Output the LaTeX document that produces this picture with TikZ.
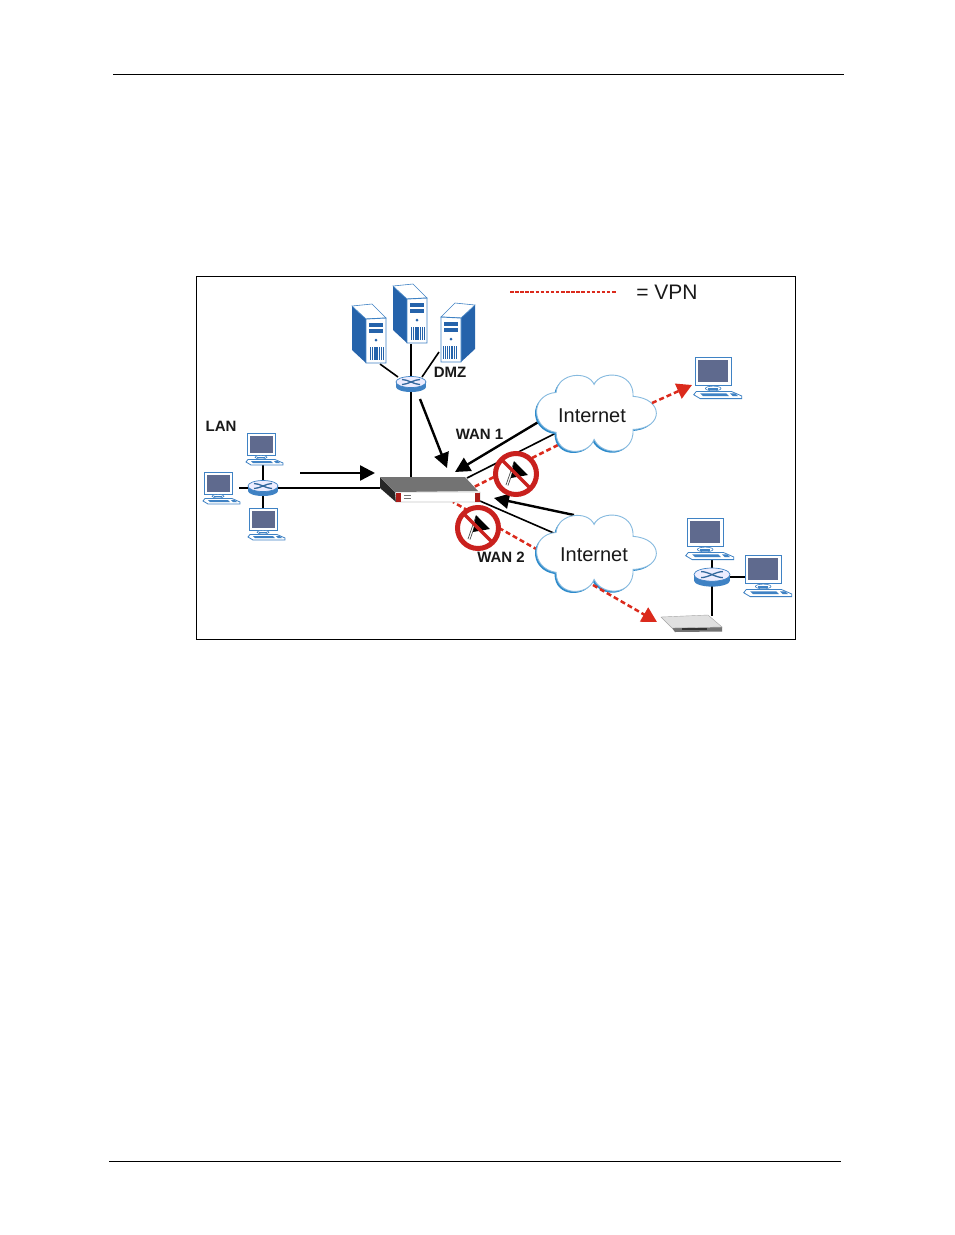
\documentclass[tikz,border=0pt]{standalone}
\usepackage{fontspec}
\setmainfont{Liberation Sans}
\usetikzlibrary{arrows.meta}
\definecolor{pcblue}{HTML}{3F82C4}
\definecolor{scr}{HTML}{5F6A8E}
\definecolor{srv}{HTML}{2563AB}
\definecolor{vred}{HTML}{DB2A1C}
\definecolor{nored}{HTML}{C9211E}
\definecolor{cldark}{HTML}{2E8BCB}
\definecolor{cllight}{HTML}{86BADF}
\tikzset{
  x=1pt,y=-1pt,
  dev/.style={inner sep=0pt,outer sep=0pt,minimum width=#1},
  wire/.style={draw=black,line width=1.6pt},
  flow/.style={draw=black,line width=2.4pt,-{Triangle[length=15pt,width=15pt]}},
  vpn/.style={draw=vred,line width=2.5pt,dash pattern=on 5pt off 3pt},
  vpnarrow/.style={vpn,-{Triangle[length=15pt,width=16pt,fill=vred]}},
  lab/.style={font=\fontsize{15}{15}\selectfont\bfseries,text=black!90,inner sep=0pt},
  big/.style={font=\fontsize{20}{20}\selectfont,text=black!90,inner sep=0pt},
  pics/pcunit/.style={code={
    \draw[pcblue,fill=white,line width=.8pt] (0,0) rectangle (28,22);
    \fill[scr] (2.5,2.5) rectangle (25.5,19.5);
    \draw[pcblue,fill=white,line width=.6pt] (14,24.2) ellipse [x radius=6,y radius=1.8];
    \fill[pcblue] (10,24) rectangle (18,25);
    \draw[pcblue,fill=white,line width=.8pt] (1,26.5) -- (28,26.5) -- (36,30) -- (36,32) -- (4,32) -- (-1,29) -- cycle;
    \fill[pcblue] (4,28) -- (24,28) -- (26,30) -- (6,30) -- cycle;
    \fill[pcblue] (27,28) -- (31,28) -- (33,30) -- (29,30) -- cycle;
  }},
  pics/routerunit/.style={code={
    \fill[pcblue] (-15,-2) rectangle (15,3);
    \fill[pcblue] (0,3) ellipse [x radius=15,y radius=5];
    \draw[pcblue,fill=blue!7!white,line width=.7pt] (0,-2) ellipse [x radius=15,y radius=5.5];
    \draw[pcblue!80!black,line width=1.3pt] (-9,-4.5) .. controls (-3,-4.5) and (3,0.5) .. (9,0.5);
    \draw[pcblue!80!black,line width=1.3pt] (-9,0.5) .. controls (-3,0.5) and (3,-4.5) .. (9,-4.5);
  }},
  pics/serverunit/.style={code={
    \fill[srv] (0,2) -- (14,15) -- (14,59) -- (0,46) -- cycle;
    \draw[pcblue,fill=white,line width=.6pt] (0,2) -- (20,0) -- (34,14) -- (14,15) -- cycle;
    \draw[pcblue,fill=white,line width=.9pt] (14,15) -- (34,14) -- (34,59) -- (14,59) -- cycle;
    \fill[srv] (17,18.5) rectangle (31,23);
    \fill[srv] (17,25) rectangle (31,29);
    \fill[srv] (24,36) circle [radius=1.5];
    \foreach \s in {18,19.8,...,31}{\fill[srv] (\s,43) rectangle (\s+1.1,56);}
  }},
  pics/cloudunit/.style={code={
    \def\cloudpath{(20,56) .. controls (-6,52) and (-6,18) .. (20,16)
      .. controls (22,-4) and (52,-6) .. (58,8)
      .. controls (64,-6) and (98,-6) .. (97,20)
      .. controls (128,22) and (128,52) .. (97,53)
      .. controls (98,80) and (66,80) .. (58,63)
      .. controls (52,80) and (20,80) .. (20,56) -- cycle}
    \fill[cldark] \cloudpath;
    \begin{scope}[shift={(1.6,-1.6)}]
      \draw[cllight,fill=white,line width=.9pt] \cloudpath;
    \end{scope}
  }},
  pics/noentry/.style={code={
    \fill[white] (0,0) circle [radius=21];
    \draw[white,line width=3pt] (-9,11) -- (-1,-12);
    \draw[black!70,line width=.7pt] (-10,11) -- (-2,-12);
    \draw[black!70,line width=.7pt] (-8,11.5) -- (0,-11.5);
    \fill[black] (-2,-13) -- (12,1) -- (-5,4) -- cycle;
    \draw[nored,line width=3.5pt] (-14,-14) -- (14,14);
    \draw[nored,line width=5pt] (0,0) circle [radius=20.5];
  }},
}
\begin{document}
\begin{tikzpicture}
\useasboundingbox (0,0) rectangle (954,1235);
\fill[white] (0,0) rectangle (954,1235);
% page rules and frame
\coordinate (ruleAl) at (113,74); \coordinate (ruleAr) at (844,74);
\coordinate (ruleBl) at (109,1161); \coordinate (ruleBr) at (841,1161);
\draw[line width=.8pt] (ruleAl) -- (ruleAr);
\draw[line width=.8pt] (ruleBl) -- (ruleBr);
\draw[line width=.8pt] (196.5,276.5) rectangle (795.5,639.5);
% device anchors
\node[dev=36pt,minimum height=32pt] (pcA) at (265,449) {};
\node[dev=36pt,minimum height=32pt] (pcB) at (221,488) {};
\node[dev=36pt,minimum height=32pt] (pcC) at (267,524) {};
\node[dev=30pt,minimum height=16pt] (lanR) at (263,488) {};
\node[dev=30pt,minimum height=16pt] (dmzR) at (411,384) {};
\node[dev=34pt,minimum height=60pt] (srvB) at (411,314) {};
\node[dev=100pt,minimum height=25pt] (fw) at (430,489.5) {};
\node[dev=36pt,minimum height=18pt] (rmR) at (712,577) {};
\node[dev=47pt,minimum height=42pt] (rmA) at (710.5,538) {};
\node[dev=47pt,minimum height=42pt] (rmB) at (768,576) {};
\node[dev=62pt,minimum height=17pt] (modem) at (691,624) {};
\node[dev=47pt,minimum height=42pt] (rmC) at (718,377) {};
\coordinate (srvAfoot) at (380,364); \coordinate (srvCfoot) at (439,352);
\coordinate (dmzRa) at (398,377); \coordinate (dmzRc) at (422,377);
\coordinate (lanArrA) at (300,473); \coordinate (lanArrB) at (375,473);
\coordinate (dmzArrA) at (420,399); \coordinate (dmzArrB) at (447,468);
\coordinate (cuA) at (540,421); \coordinate (fwAr) at (455,472);
\coordinate (cuB) at (558,432); \coordinate (fwB) at (467,478);
\coordinate (cuC) at (558,445); \coordinate (fwC) at (472,488);
\coordinate (cdA) at (574,515); \coordinate (fwD) at (494,498);
\coordinate (cdB) at (556,534); \coordinate (fwE) at (480,501);
\coordinate (cdC) at (538,550); \coordinate (fwF) at (453,502);
\coordinate (cuOut) at (652,403); \coordinate (pcIn) at (692,385);
\coordinate (cdOut) at (593,585); \coordinate (mdIn) at (657,622);
\coordinate (legA) at (510,292); \coordinate (legB) at (616,292);
% connectors
\draw[wire] (lanR.center) -- (lanR.center |- pcA.south);
\draw[wire] (lanR.center) -- (pcB.east);
\draw[wire] (lanR.center) -- (lanR.center |- pcC.north);
\draw[wire] (lanR.center) -- (fw.west |- lanR.center);
\draw[wire] (dmzR.center) -- (dmzR.center |- fw.north);
\draw[wire] (dmzR.center) -- (srvB.south);
\draw[wire] (srvAfoot) -- (dmzRa);
\draw[wire] (srvCfoot) -- (dmzRc);
\draw[flow] (lanArrA) -- (lanArrB);
\draw[flow] (dmzArrA) -- (dmzArrB);
\draw[flow] (cuA) -- (fwAr);
\draw[flow] (cdA) -- (fwD);
\draw[wire] (cuB) -- (fwB);
\draw[wire] (cdB) -- (fwE);
\draw[vpn] (cuC) -- (fwC);
\draw[vpn] (cdC) -- (fwF);
\draw[wire] (rmR.center) -- (rmR.center |- rmA.south);
\draw[wire] (rmR.center) -- (rmB.west |- rmR.center);
\draw[wire] (rmR.center) -- (rmR.center |- modem.north);
% LAN
\pic at (247,433) {pcunit};
\pic at (204,472) {pcunit};
\pic at (249,508) {pcunit};
\pic at (263,488) {routerunit};
% DMZ
\pic at (352,304) {serverunit};
\pic at (393,284) {serverunit};
\pic[xscale=-1] at (475,303) {serverunit};
\pic at (411,384) {routerunit};
% firewall
\fill[black!85] (380,477) -- (395,492) -- (396,502) -- (380,488) -- cycle;
\fill[black!55] (380,477) -- (465,477) -- (478,491) -- (395,492) -- cycle;
\draw[black!60,fill=white,line width=.4pt] (395,492) -- (480,492) -- (480,502) -- (396,502) -- cycle;
\fill[nored!85!black] (396,492.5) rectangle (401,502);
\fill[nored!85!black] (475,492.5) rectangle (480,502);
\fill[black!55] (404,495) rectangle (411,496);
\fill[black!55] (404,498) rectangle (411,499);
% clouds
\pic at (534.5,378) {cloudunit};
\pic at (534.5,518) {cloudunit};
\node[big] (netA) at (592,416) {Internet};
\node[big] (netB) at (594,555) {Internet};
% no entry signs
\pic at (516,474) {noentry};
\pic at (478,528) {noentry};
% remote site
\pic[scale=1.3] at (695,357) {pcunit};
\pic[scale=1.3] at (687,518) {pcunit};
\pic[scale=1.3] at (745,555) {pcunit};
\pic[scale=1.2] at (712,577) {routerunit};
\fill[black!55] (672,628) -- (722,627) -- (722,631.5) -- (675,632) -- cycle;
\draw[black!35,fill=black!12,line width=.4pt] (661,617) -- (708,615) -- (722,627) -- (672,628) -- cycle;
\fill[black!80] (682,627.5) rectangle (707,630);
\draw[vpnarrow] (cuOut) -- (pcIn);
\draw[vpnarrow] (cdOut) -- (mdIn);
% labels and legend
\draw[draw=vred,line width=2pt,dash pattern=on 3.5pt off 1.6pt] (legA) -- (legB);
\node[font=\fontsize{21}{21}\selectfont,text=black!90,inner sep=0pt] (legT) at (667,292) {= VPN};
\node[lab] (lanL) at (221,426) {LAN};
\node[lab] (dmzL) at (450,372) {DMZ};
\node[lab] (wanA) at (479.5,434.5) {WAN 1};
\node[lab] (wanB) at (501,557) {WAN 2};
\end{tikzpicture}
\end{document}
